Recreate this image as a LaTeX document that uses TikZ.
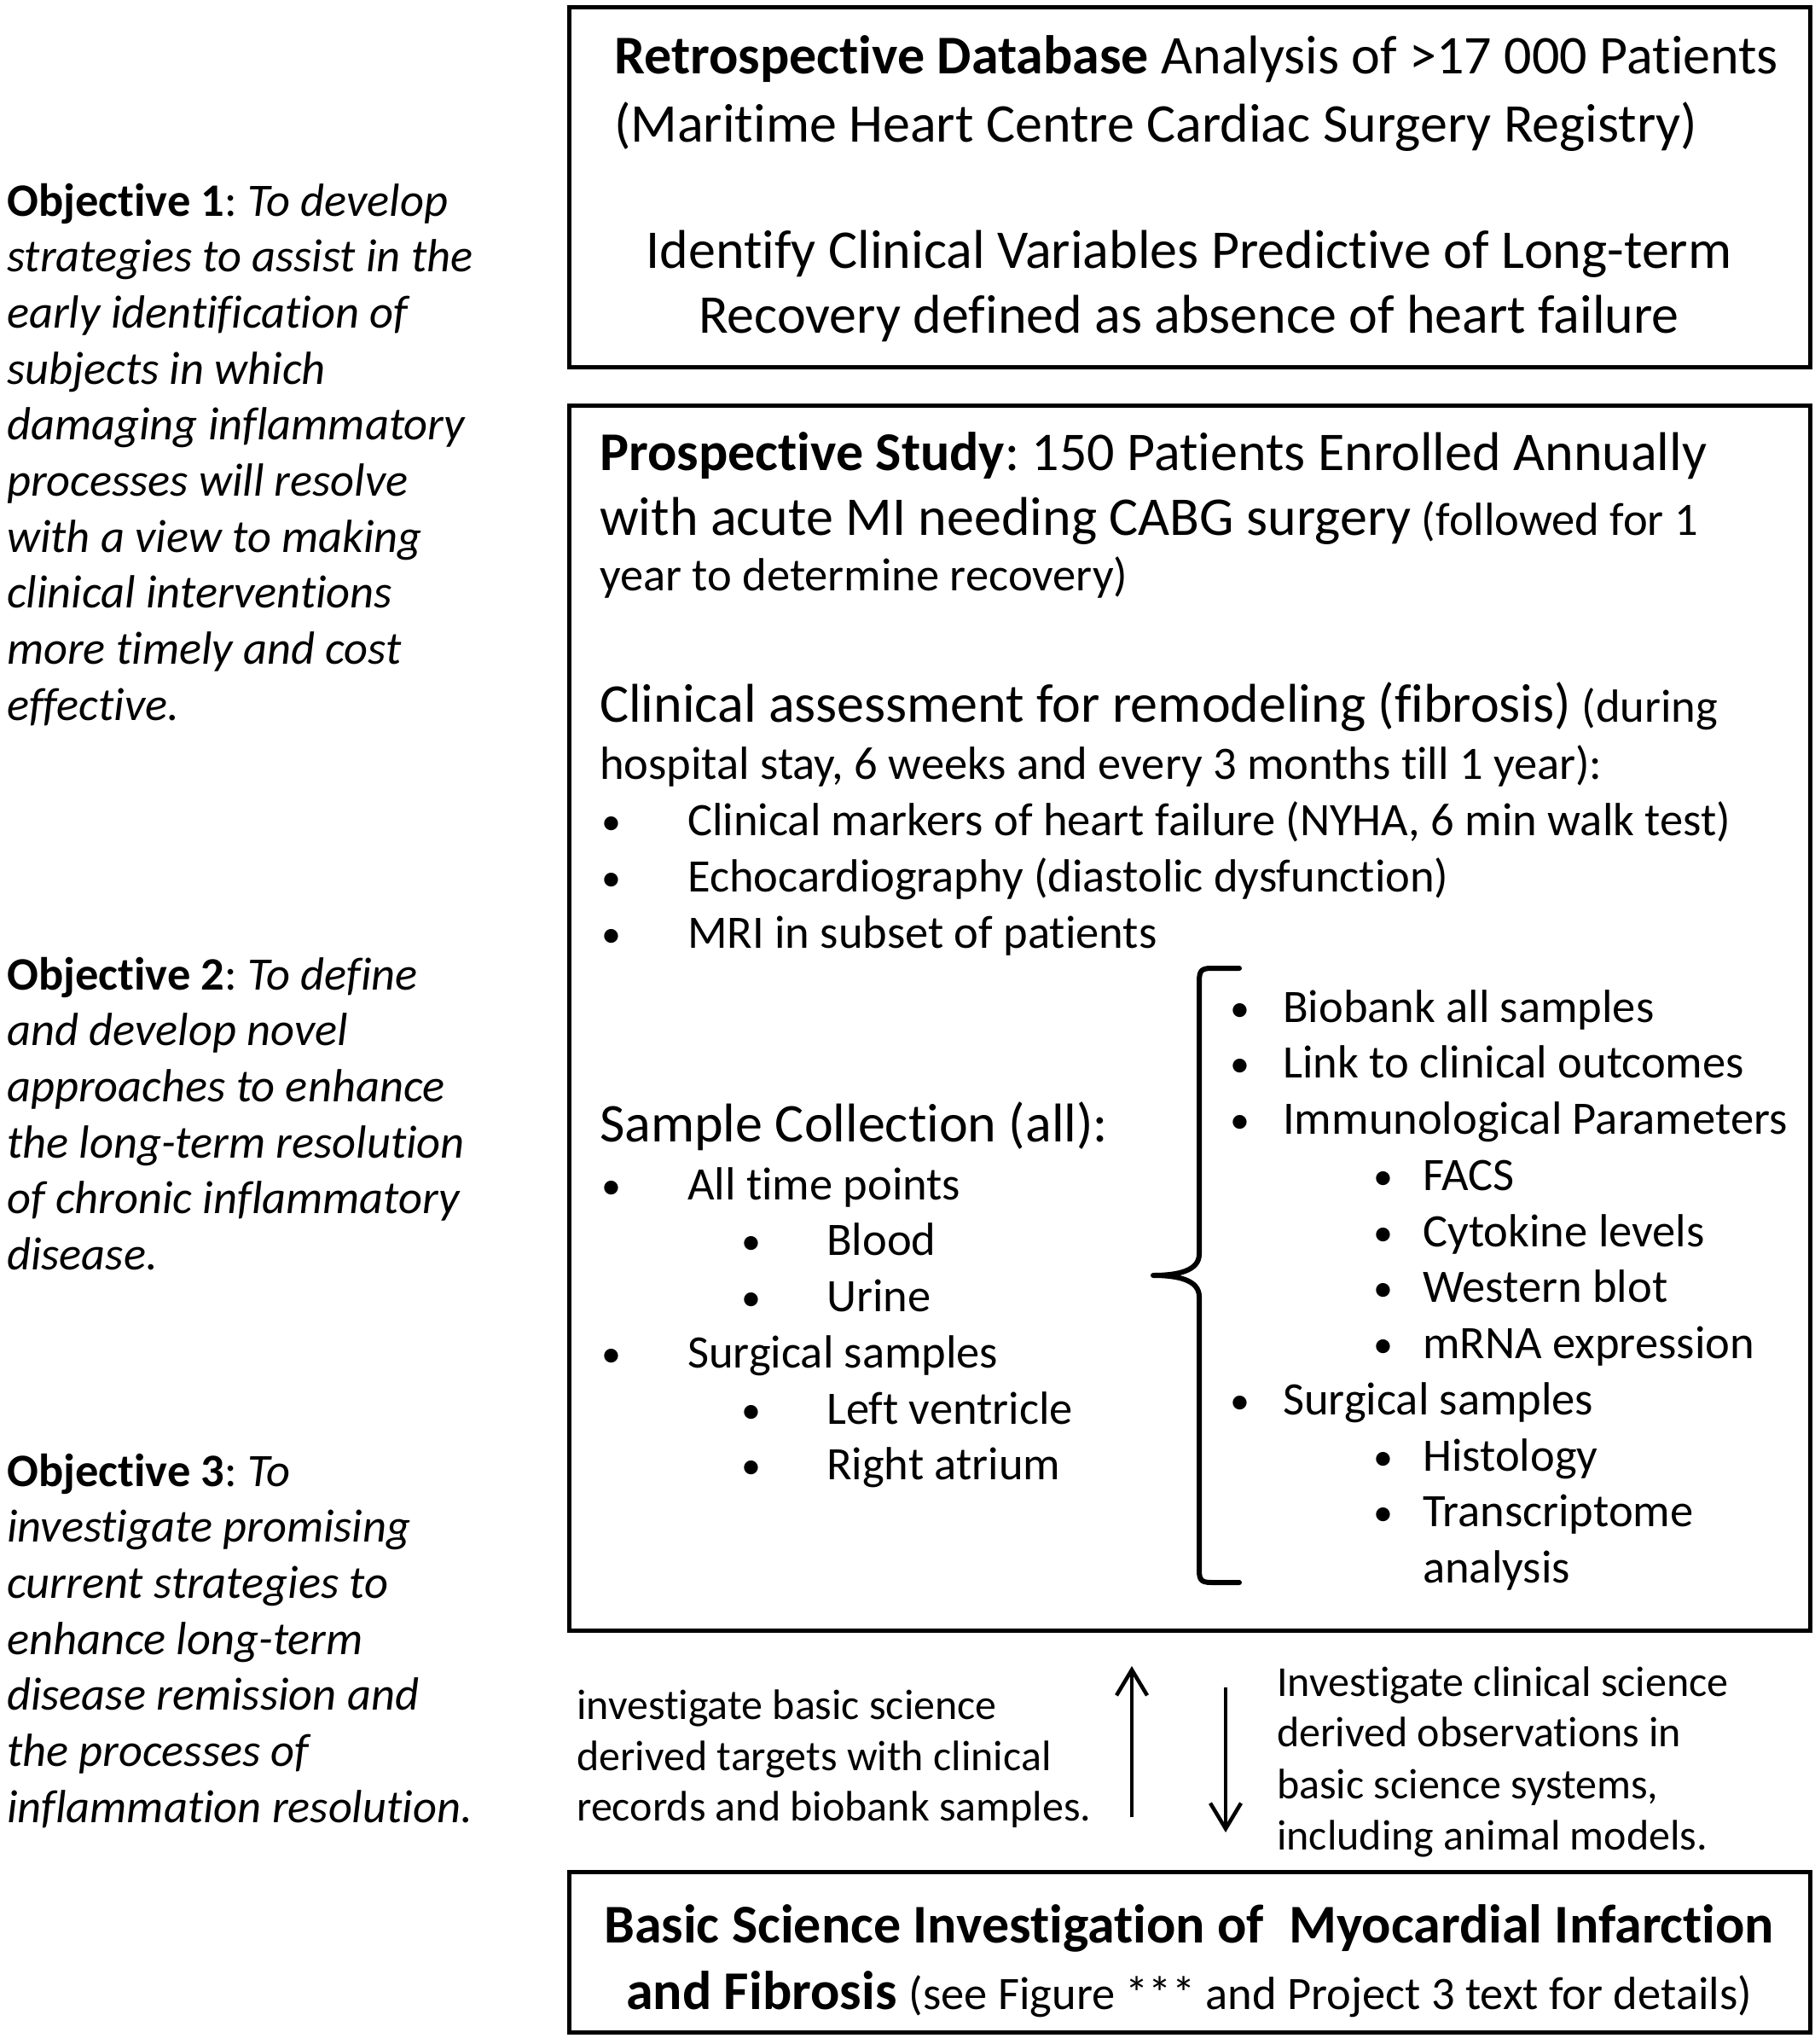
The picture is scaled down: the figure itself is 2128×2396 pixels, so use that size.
\documentclass[tikz,border=0pt]{standalone}
\usepackage{fontspec}
\setmainfont{Carlito}[Ligatures={NoCommon}]
\usetikzlibrary{arrows.meta}
\frenchspacing
\newcommand{\fLg}{\fontsize{64}{76}\selectfont}
\newcommand{\fSm}{\fontsize{54.5}{64}\selectfont}
\newcommand{\fAr}{\fontsize{50}{58}\selectfont}
\newcommand{\bul}{{\fontsize{46}{50}\selectfont\raisebox{1pt}{•}}}
\newcommand{\tl}[4]{\node[txt] (#1) at (#2,#3) {#4};}
\newcommand{\tc}[4]{\node[txtc] (#1) at (#2,#3) {#4};}
\begin{document}
\begin{tikzpicture}[x=1pt,y=-1pt,
  box/.style={draw, line width=5pt, minimum width=1455pt, inner sep=0pt},
  txt/.style={anchor=base west, inner sep=0pt, font=\fSm},
  txtc/.style={anchor=base, inner sep=0pt, font=\fLg},
  arr/.style={line width=4.5pt, -{Straight Barb[length=30pt,width=36pt,line width=4.5pt]}},
  brace/.style={line width=6pt, line cap=round, line join=round}]
\useasboundingbox (0,0) rectangle (2128,2396);
% boxes
\node[box, minimum height=422pt] (b1) at (1394.5,219) {};
\node[box, minimum height=1436pt] (b2) at (1394.5,1193) {};
\node[box, minimum height=188pt] (b3) at (1394.5,2288) {};
% box 1 text
\tl{r1}{720}{86}{\fLg\textbf{Retrospective Database} Analysis of >17 000 Patients}
\tl{r2}{720}{166}{\fLg(Maritime Heart Centre Cardiac Surgery Registry)}
\tc{r3}{1394}{314}{Identify Clinical Variables Predictive of Long-term}
\tc{r4}{1394}{390}{Recovery defined as absence of heart failure}
% objectives
\tl{o1a}{8}{253}{\textbf{Objective 1}: \textit{To develop}}
\tl{o1b}{8}{318.7}{\textit{strategies to assist in the}}
\tl{o1c}{8}{384.4}{\textit{early identification of}}
\tl{o1d}{8}{450.1}{\textit{subjects in which}}
\tl{o1e}{8}{515.8}{\textit{damaging inflammatory}}
\tl{o1f}{8}{581.5}{\textit{processes will resolve}}
\tl{o1g}{8}{647.2}{\textit{with a view to making}}
\tl{o1h}{8}{712.9}{\textit{clinical interventions}}
\tl{o1i}{8}{778.6}{\textit{more timely and cost}}
\tl{o1j}{8}{844.3}{\textit{effective.}}
\tl{o2a}{8}{1160}{\textbf{Objective 2}: \textit{To define}}
\tl{o2b}{8}{1225.7}{\textit{and develop novel}}
\tl{o2c}{8}{1291.4}{\textit{approaches to enhance}}
\tl{o2d}{8}{1357.1}{\textit{the long-term resolution}}
\tl{o2e}{8}{1422.8}{\textit{of chronic inflammatory}}
\tl{o2f}{8}{1488.5}{\textit{disease.}}
\tl{o3a}{8}{1742}{\textbf{Objective 3}: \textit{To}}
\tl{o3b}{8}{1807.7}{\textit{investigate promising}}
\tl{o3c}{8}{1873.4}{\textit{current strategies to}}
\tl{o3d}{8}{1939.1}{\textit{enhance long-term}}
\tl{o3e}{8}{2004.8}{\textit{disease remission and}}
\tl{o3f}{8}{2070.5}{\textit{the processes of}}
\tl{o3g}{8}{2136.2}{\textit{inflammation resolution.}}
% box 2 text
\tl{p1}{703}{551}{\fLg\textbf{Prospective Study}: 150 Patients Enrolled Annually}
\tl{p2}{703}{627}{{\fLg with acute MI needing CABG surgery} (followed for 1}
\tl{p3}{703}{692}{year to determine recovery)}
\tl{p4}{703}{846}{{\fLg Clinical assessment for remodeling (fibrosis)} (during}
\tl{p5}{703}{913}{hospital stay, 6 weeks and every 3 months till 1 year):}
\tl{pb1}{705}{979}{\bul}\tl{p6}{806}{979}{Clinical markers of heart failure (NYHA, 6 min walk test)}
\tl{pb2}{705}{1045}{\bul}\tl{p7}{806}{1045}{Echocardiography (diastolic dysfunction)}
\tl{pb3}{705}{1111}{\bul}\tl{p8}{806}{1111}{MRI in subset of patients}
\tl{s0}{703}{1338}{\fLg Sample Collection (all):}
\tl{sb1}{705}{1406}{\bul}\tl{s1}{806}{1406}{All time points}
\tl{sb2}{869}{1471}{\bul}\tl{s2}{969}{1471}{Blood}
\tl{sb3}{869}{1537}{\bul}\tl{s3}{969}{1537}{Urine}
\tl{sb4}{705}{1603}{\bul}\tl{s4}{806}{1603}{Surgical samples}
\tl{sb5}{869}{1669}{\bul}\tl{s5}{969}{1669}{Left ventricle}
\tl{sb6}{869}{1734}{\bul}\tl{s6}{969}{1734}{Right atrium}
% right column
\tl{qb1}{1442}{1198}{\bul}\tl{q1}{1504}{1198}{Biobank all samples}
\tl{qb2}{1442}{1263}{\bul}\tl{q2}{1504}{1263}{Link to clinical outcomes}
\tl{qb3}{1442}{1329}{\bul}\tl{q3}{1504}{1329}{Immunological Parameters}
\tl{qb4}{1610}{1395}{\bul}\tl{q4}{1668}{1395}{FACS}
\tl{qb5}{1610}{1461}{\bul}\tl{q5}{1668}{1461}{Cytokine levels}
\tl{qb6}{1610}{1526}{\bul}\tl{q6}{1668}{1526}{Western blot}
\tl{qb7}{1610}{1592}{\bul}\tl{q7}{1668}{1592}{mRNA expression}
\tl{qb8}{1442}{1658}{\bul}\tl{q8}{1504}{1658}{Surgical samples}
\tl{qb9}{1610}{1724}{\bul}\tl{q9}{1668}{1724}{Histology}
\tl{qb10}{1610}{1789}{\bul}\tl{q10}{1668}{1789}{Transcriptome}
\tl{q11}{1668}{1855}{analysis}
% brace
\draw[brace] (1453,1135) -- (1420,1135) .. controls (1406,1135) and (1406,1140) .. (1406,1155)
  -- (1406,1470) .. controls (1406,1490) and (1380,1495) .. (1352,1495)
  .. controls (1380,1495) and (1406,1500) .. (1406,1520)
  -- (1406,1837) .. controls (1406,1850) and (1406,1855) .. (1420,1855) -- (1453,1855);
% arrows
\coordinate (upS) at (1327,2130);
\coordinate (upE) at (1327,1953);
\coordinate (dnS) at (1437,1978);
\coordinate (dnE) at (1437,2148);
\draw[arr] (upS) -- (upE);
\draw[arr] (dnS) -- (dnE);
\tl{a1}{676}{2015}{\fAr investigate basic science}
\tl{a2}{676}{2075}{\fAr derived targets with clinical}
\tl{a3}{676}{2134}{\fAr records and biobank samples.}
\tl{c1}{1497}{1988}{\fAr Investigate clinical science}
\tl{c2}{1497}{2047}{\fAr derived observations in}
\tl{c3}{1497}{2108}{\fAr basic science systems,}
\tl{c4}{1497}{2168}{\fAr including animal models.}
% box 3 text
\tc{f1}{1394}{2277}{\textbf{Basic Science Investigation of\ \ Myocardial Infarction}}
\tc{f2}{1394}{2355}{\textbf{and Fibrosis} {\fSm(see Figure *** and Project 3 text for details)}}
\end{tikzpicture}
\end{document}
